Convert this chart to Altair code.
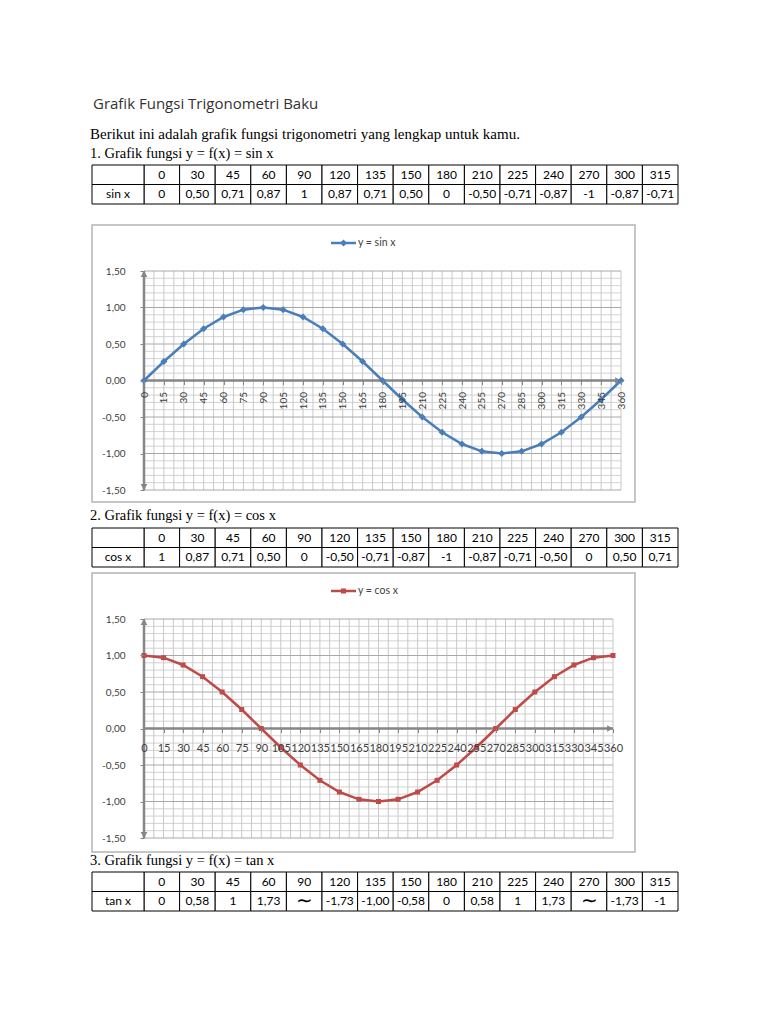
import altair as alt
import pandas as pd

# ---------------- data ----------------
DEG = [0, 15, 30, 45, 60, 75, 90, 105, 120, 135, 150, 165, 180,
       195, 210, 225, 240, 255, 270, 285, 300, 315, 330, 345, 360]
SIN_Y = [0.00, 0.26, 0.50, 0.71, 0.87, 0.97, 1.00, 0.97, 0.87, 0.71, 0.50, 0.26, 0.00,
         -0.26, -0.50, -0.71, -0.87, -0.97, -1.00, -0.97, -0.87, -0.71, -0.50, -0.26, 0.00]
COS_Y = [1.00, 0.97, 0.87, 0.71, 0.50, 0.26, 0.00, -0.26, -0.50, -0.71, -0.87, -0.97, -1.00,
         -0.97, -0.87, -0.71, -0.50, -0.26, 0.00, 0.26, 0.50, 0.71, 0.87, 0.97, 1.00]

TABLE_ANGLES = ["0", "30", "45", "60", "90", "120", "135", "150", "180",
                "210", "225", "240", "270", "300", "315"]
SIN_ROW = ["0", "0,50", "0,71", "0,87", "1", "0,87", "0,71", "0,50", "0",
           "-0,50", "-0,71", "-0,87", "-1", "-0,87", "-0,71"]
COS_ROW = ["1", "0,87", "0,71", "0,50", "0", "-0,50", "-0,71", "-0,87", "-1",
           "-0,87", "-0,71", "-0,50", "0", "0,50", "0,71"]
TAN_ROW = ["0", "0,58", "1", "1,73", "\u223c", "-1,73", "-1,00", "-0,58", "0",
           "0,58", "1", "1,73", "\u223c", "-1,73", "-1"]

Y_TICKS = [-1.5, -1.0, -0.5, 0.0, 0.5, 1.0, 1.5]
X_MIN, X_MAX = 0, 360
Y_MIN, Y_MAX = -1.5, 1.5
X_GRID = [i * 7.5 for i in range(49)]
Y_GRID_MINOR = [round(-1.5 + i * 0.1, 1) for i in range(31) if i % 5 != 0]
Y_GRID_MAJOR = Y_TICKS

TITLE = "Grafik Fungsi Trigonometri Baku"
INTRO = "Berikut ini adalah grafik fungsi trigonometri yang lengkap untuk kamu."
H1 = "1. Grafik fungsi y = f(x) = sin x"
H2 = "2. Grafik fungsi y = f(x) =  cos x"
H3 = "3. Grafik fungsi y = f(x) =  tan x"

# ---------------- layout constants ----------------
OX = 144          # page x of the concat origin (y axis of the charts)
TABLE_LEFT = 92
TABLE_W = 534
ROW_H = 19.5
SANS = "Lato"
SERIF = "Liberation Serif"
ONE = pd.DataFrame({"k": [0]})


def text_mark(txt, px, cy, font=SERIF, size=14, color="black", align="left", weight="normal"):
    return alt.Chart(ONE).mark_text(
        text=txt, font=font, fontSize=size, color=color, align=align,
        baseline="middle", fontWeight=weight
    ).encode(x=alt.value(px - OX), y=alt.value(cy))


def spacer(h, w=477, content=None):
    base = alt.Chart(ONE).mark_text(text="").encode(x=alt.value(0), y=alt.value(0))
    layers = [base] + (content or [])
    return alt.layer(*layers).properties(width=w, height=h)


def table(label, row_vals):
    df = pd.DataFrame({
        "col": TABLE_ANGLES + TABLE_ANGLES,
        "row": ["head"] * 15 + ["val"] * 15,
        "txt": TABLE_ANGLES + row_vals,
    })
    X = alt.X("col:N", sort=TABLE_ANGLES, axis=None,
              scale=alt.Scale(paddingInner=0, paddingOuter=0))
    Y = alt.Y("row:N", sort=["head", "val"], axis=None,
              scale=alt.Scale(paddingInner=0, paddingOuter=0))
    cells = alt.Chart(df).mark_rect(fill="white", stroke="black", strokeWidth=1).encode(x=X, y=Y)
    txt = alt.Chart(df).mark_text(font=SANS, color="black", baseline="middle").encode(
        x=X, y=Y, text="txt:N",
        size=alt.condition(alt.datum.txt == "\u223c", alt.value(20), alt.value(12)),
    )
    ldf = pd.DataFrame({"row": ["head", "val"], "txt": ["", label]})
    lcells = alt.Chart(ldf).mark_rect(fill="white", stroke="black", strokeWidth=1).encode(
        x=alt.value(TABLE_LEFT - OX), x2=alt.value(0), y=Y)
    ltxt = alt.Chart(ldf).mark_text(font=SANS, fontSize=12, color="black", baseline="middle").encode(
        x=alt.value((TABLE_LEFT - OX) / 2), y=Y, text="txt:N")
    return alt.layer(cells, lcells, txt, ltxt).properties(width=TABLE_W, height=2 * ROW_H)


def trig_chart(vals, color, shape, msize, W, H, label_angle, label_pad, label_size,
               legend_txt, frame_bottom):
    df = pd.DataFrame({"deg": DEG, "val": vals})
    xs = alt.Scale(domain=[X_MIN, X_MAX], nice=False, zero=False)
    ys = alt.Scale(domain=[Y_MIN, Y_MAX], nice=False, zero=False)
    xaxis = alt.Axis(values=DEG, format="d", labelAngle=label_angle, labelFont=SANS,
                     labelFontSize=label_size, labelColor="#404040", labelPadding=label_pad,
                     labelOverlap=False, labelFlush=False, labelBound=False,
                     domain=False, grid=False, ticks=True, tickColor="#868686",
                     tickSize=4, tickWidth=1, offset=-H / 2, zindex=1, title=None)
    yaxis = alt.Axis(values=Y_TICKS,
                     labelExpr="(datum.value < 0 ? '-' : '') + replace(format(abs(datum.value), '.2f'), '.', ',')",
                     labelFont=SANS, labelFontSize=10, labelColor="#404040", labelPadding=15,
                     domain=False, grid=False, ticks=True, tickColor="#868686", tickSize=4,
                     tickWidth=1, zindex=1, title=None)

    def X(f):
        return alt.X(f, scale=xs, axis=xaxis)

    def Y(f):
        return alt.Y(f, scale=ys, axis=yaxis)

    frame = alt.Chart(ONE).mark_rect(fill="white", stroke="#B4B4B4", strokeWidth=1.5).encode(
        x=alt.value(TABLE_LEFT - OX), x2=alt.value(635 - OX),
        y=alt.value(-46), y2=alt.value(frame_bottom))
    hminor = alt.Chart(pd.DataFrame({"g": Y_GRID_MINOR})).mark_rule(
        color="#D2D2D2", strokeWidth=1).encode(y=Y("g:Q"), x=alt.value(0), x2=alt.value(W))
    vgrid = alt.Chart(pd.DataFrame({"g": X_GRID})).mark_rule(
        color="#C8C8C8", strokeWidth=1).encode(x=X("g:Q"), y=alt.value(0), y2=alt.value(H))
    hmajor = alt.Chart(pd.DataFrame({"g": Y_GRID_MAJOR})).mark_rule(
        color="#A8A8A8", strokeWidth=1).encode(y=Y("g:Q"), x=alt.value(0), x2=alt.value(W))
    yline = alt.Chart(pd.DataFrame({"x": [X_MIN], "y": [Y_MIN], "y2": [Y_MAX]})).mark_rule(
        color="#868686", strokeWidth=2.5).encode(x=X("x:Q"), y=Y("y:Q"), y2="y2:Q")
    xline = alt.Chart(pd.DataFrame({"x": [X_MIN], "x2": [X_MAX], "y": [0.0]})).mark_rule(
        color="#868686", strokeWidth=2.5).encode(x=X("x:Q"), x2="x2:Q", y=Y("y:Q"))
    up = alt.Chart(pd.DataFrame({"x": [X_MIN], "y": [Y_MAX]})).mark_point(
        shape="triangle-up", filled=True, color="#868686", size=45, opacity=1, yOffset=3
    ).encode(x=X("x:Q"), y=Y("y:Q"))
    down = alt.Chart(pd.DataFrame({"x": [X_MIN], "y": [Y_MIN]})).mark_point(
        shape="triangle-down", filled=True, color="#868686", size=45, opacity=1, yOffset=-3
    ).encode(x=X("x:Q"), y=Y("y:Q"))
    right = alt.Chart(pd.DataFrame({"x": [X_MAX], "y": [0.0]})).mark_point(
        shape="triangle-right", filled=True, color="#868686", size=45, opacity=1, xOffset=-3
    ).encode(x=X("x:Q"), y=Y("y:Q"))
    line = alt.Chart(df).mark_line(color=color, strokeWidth=2.5).encode(x=X("deg:Q"), y=Y("val:Q"))
    pts = alt.Chart(df).mark_point(shape=shape, filled=True, color=color, size=msize, opacity=1).encode(
        x=X("deg:Q"), y=Y("val:Q"))
    lg_line = alt.Chart(ONE).mark_rule(color=color, strokeWidth=2.5).encode(
        x=alt.value(331 - OX), x2=alt.value(356 - OX), y=alt.value(-28))
    lg_pt = alt.Chart(ONE).mark_point(shape=shape, filled=True, color=color, size=msize, opacity=1).encode(
        x=alt.value(343.5 - OX), y=alt.value(-28))
    lg_txt = alt.Chart(ONE).mark_text(text=legend_txt, font=SANS, fontSize=10.5, color="#404040",
                                      align="left", baseline="middle").encode(
        x=alt.value(358 - OX), y=alt.value(-28))
    return alt.layer(frame, hminor, vgrid, hmajor, yline, xline, up, down, right,
                     line, pts, lg_line, lg_pt, lg_txt).properties(width=W, height=H)


# ---------------- cells ----------------
page_bg = alt.Chart(ONE).mark_rect(fill="white").encode(
    x=alt.value(-OX), x2=alt.value(768 - OX), y=alt.value(0), y2=alt.value(1024))
c0 = alt.layer(
    page_bg,
    text_mark(TITLE, 93, 104, font="Open Sans", size=15, color="#333333"),
    text_mark(INTRO, 90, 134, size=15),
    text_mark(H1, 90, 154, size=14.5),
).properties(width=TABLE_W, height=165)

c1 = table("sin x", SIN_ROW)
c2 = spacer(67)
c3 = trig_chart(SIN_Y, "#4A7EBB", "diamond", 50, 477, 219, 270, 7, 10, "y = sin x", 231)
c4 = spacer(38, content=[text_mark(H2, 90, 26, size=14.5)])
c5 = table("cos x", COS_ROW)
c6 = spacer(52)
c7 = trig_chart(COS_Y, "#BE4B48", "square", 25, 469, 219, 0, 10, 11, "y = cos x", 233)
c8 = spacer(34, content=[text_mark(H3, 90, 23, size=14.5)])
c9 = table("tan x", TAN_ROW)

chart = alt.vconcat(c0, c1, c2, c3, c4, c5, c6, c7, c8, c9, spacing=0, bounds="flush").resolve_scale(
    x="independent", y="independent"
).properties(padding=0, background="white").configure_view(strokeWidth=0)

chart.save("out.html", embed_options={"renderer": "svg", "actions": False})
